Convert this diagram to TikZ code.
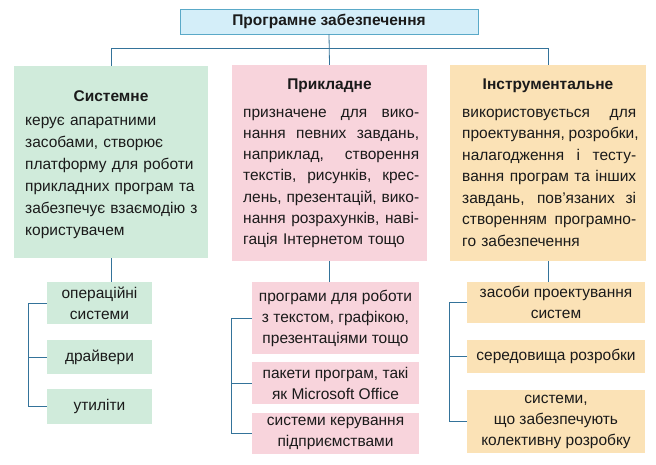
\documentclass[tikz,border=0pt]{standalone}
\usepackage{fontspec}
\setmainfont{Liberation Sans}
\definecolor{titlefill}{HTML}{D4EEF9}
\definecolor{titledraw}{HTML}{5AA9C8}
\definecolor{linec}{HTML}{34739A}
\definecolor{greenf}{HTML}{D0EBDB}
\definecolor{pinkf}{HTML}{F8D4DC}
\definecolor{orangef}{HTML}{FBE2B6}
\definecolor{txt}{HTML}{1A1A1A}
\newcommand\jline[2]{\leavevmode\hbox to #1{\spaceskip=0.28em plus 3em minus 0.05em\relax #2}\\}
\newcommand\jm[1]{\jline{176pt}{#1}}
\newcommand\jr[1]{\jline{174pt}{#1}}
\begin{document}
\begin{tikzpicture}[x=1pt,y=-1pt,
  every node/.style={text=txt},
  rootbox/.style={draw=titledraw, line width=0.8pt, fill=titlefill, inner sep=0pt,
    minimum width=298pt, minimum height=25pt, font=\fontsize{15.5}{18}\selectfont\bfseries},
  colbox/.style={draw=none, inner sep=0pt, minimum width=#1pt, minimum height=196pt},
  coltitle/.style={inner sep=0pt, anchor=base, font=\fontsize{15.5}{18}\selectfont\bfseries},
  coltext/.style={inner sep=0pt, anchor=base west, align=left},
  subbox/.style={draw=none, inner sep=0pt, align=center, font=\fontsize{15.5}{21}\selectfont},
  conn/.style={draw=linec, line width=0.8pt}]
\useasboundingbox (0,0) rectangle (656,464);

% root
\node[rootbox] (root) at (329,21.5) {Програмне забезпечення};

% column boxes
\node[colbox=194, minimum height=192pt, fill=greenf] (sys) at (111,162) {};
\node[colbox=195, fill=pinkf] (app) at (329.5,163) {};
\node[colbox=196, fill=orangef] (ins) at (548,163) {};

% column titles
\node[coltitle] (systitle) at (111,101) {Системне};
\node[coltitle] (apptitle) at (329.5,89) {Прикладне};
\node[coltitle] (institle) at (548,89) {Інструментальне};

% column texts
\node[coltext, text width=180pt, font=\fontsize{15.5}{22}\selectfont] (systext) at (25,125)
  {керує апаратними\\засобами, створює\\платформу для роботи\\прикладних програм та\\забезпечує взаємодію з\\користувачем};
\node[coltext, text width=176pt, font=\fontsize{15.5}{21.3}\selectfont] (apptext) at (243,117)
  {\jm{призначене для вико-}\jm{нання певних завдань,}\jm{наприклад, створення}\jm{текстів, рисунків, крес-}\jm{лень, презентацій, вико-}\jm{нання розрахунків, наві-}гація Інтернетом тощо};
\node[coltext, text width=174pt, font=\fontsize{15.5}{21.5}\selectfont] (institle2) at (462,117)
  {\jr{використовується для}\jr{проектування, розробки,}\jr{налагодження і тесту-}\jr{вання програм та інших}\jr{завдань, пов'язаних зі}\jr{створенням програмно-}го забезпечення};

% sub boxes: system
\node[subbox, fill=greenf, minimum width=105pt, minimum height=42pt] (s1) at (99.5,303) {операційні\\системи};
\node[subbox, fill=greenf, minimum width=105pt, minimum height=34pt] (s2) at (99.5,357) {драйвери};
\node[subbox, fill=greenf, minimum width=105pt, minimum height=35pt] (s3) at (99.5,406.5) {утиліти};

% sub boxes: applied
\node[subbox, fill=pinkf, minimum width=167pt, minimum height=72pt] (a1) at (335.5,318) {програми для роботи\\з текстом, графікою,\\презентаціями тощо};
\node[subbox, fill=pinkf, minimum width=167pt, minimum height=42pt] (a2) at (335.5,383) {пакети програм, такі\\як Microsoft Office};
\node[subbox, fill=pinkf, minimum width=167pt, minimum height=41pt] (a3) at (335.5,433.5) {системи керування\\підприємствами};

% sub boxes: instrumental
\node[subbox, fill=orangef, minimum width=178pt, minimum height=41pt] (i1) at (556,302.5) {засоби проектування\\систем};
\node[subbox, fill=orangef, minimum width=178pt, minimum height=33pt] (i2) at (556,356.5) {середовища розробки};
\node[subbox, fill=orangef, minimum width=178pt, minimum height=63pt] (i3) at (556,421.5) {системи,\\що забезпечують\\колективну розробку};

% top connectors
\draw[conn] (root.south) -- (app.north);
\draw[conn] (sys.north) -- ++(0,-17) -| (ins.north);

% column to sub connectors
\draw[conn] (sys.south) -- (sys.south |- s1.north);
\draw[conn] (app.south) -- (app.south |- a1.north);
\draw[conn] (ins.south) -- (ins.south |- i1.north);

% brackets
\draw[conn] (s1.west) -- ++(-18,0) |- (s3.west);
\draw[conn] (s2.west) -- ++(-18,0);
\draw[conn] (a1.west) -- ++(-20,0) |- (a3.west);
\draw[conn] (a2.west) -- ++(-20,0);
\draw[conn] (i1.west) -- ++(-17,0) |- (i3.west);
\draw[conn] (i2.west) -- ++(-17,0);
\end{tikzpicture}
\end{document}
